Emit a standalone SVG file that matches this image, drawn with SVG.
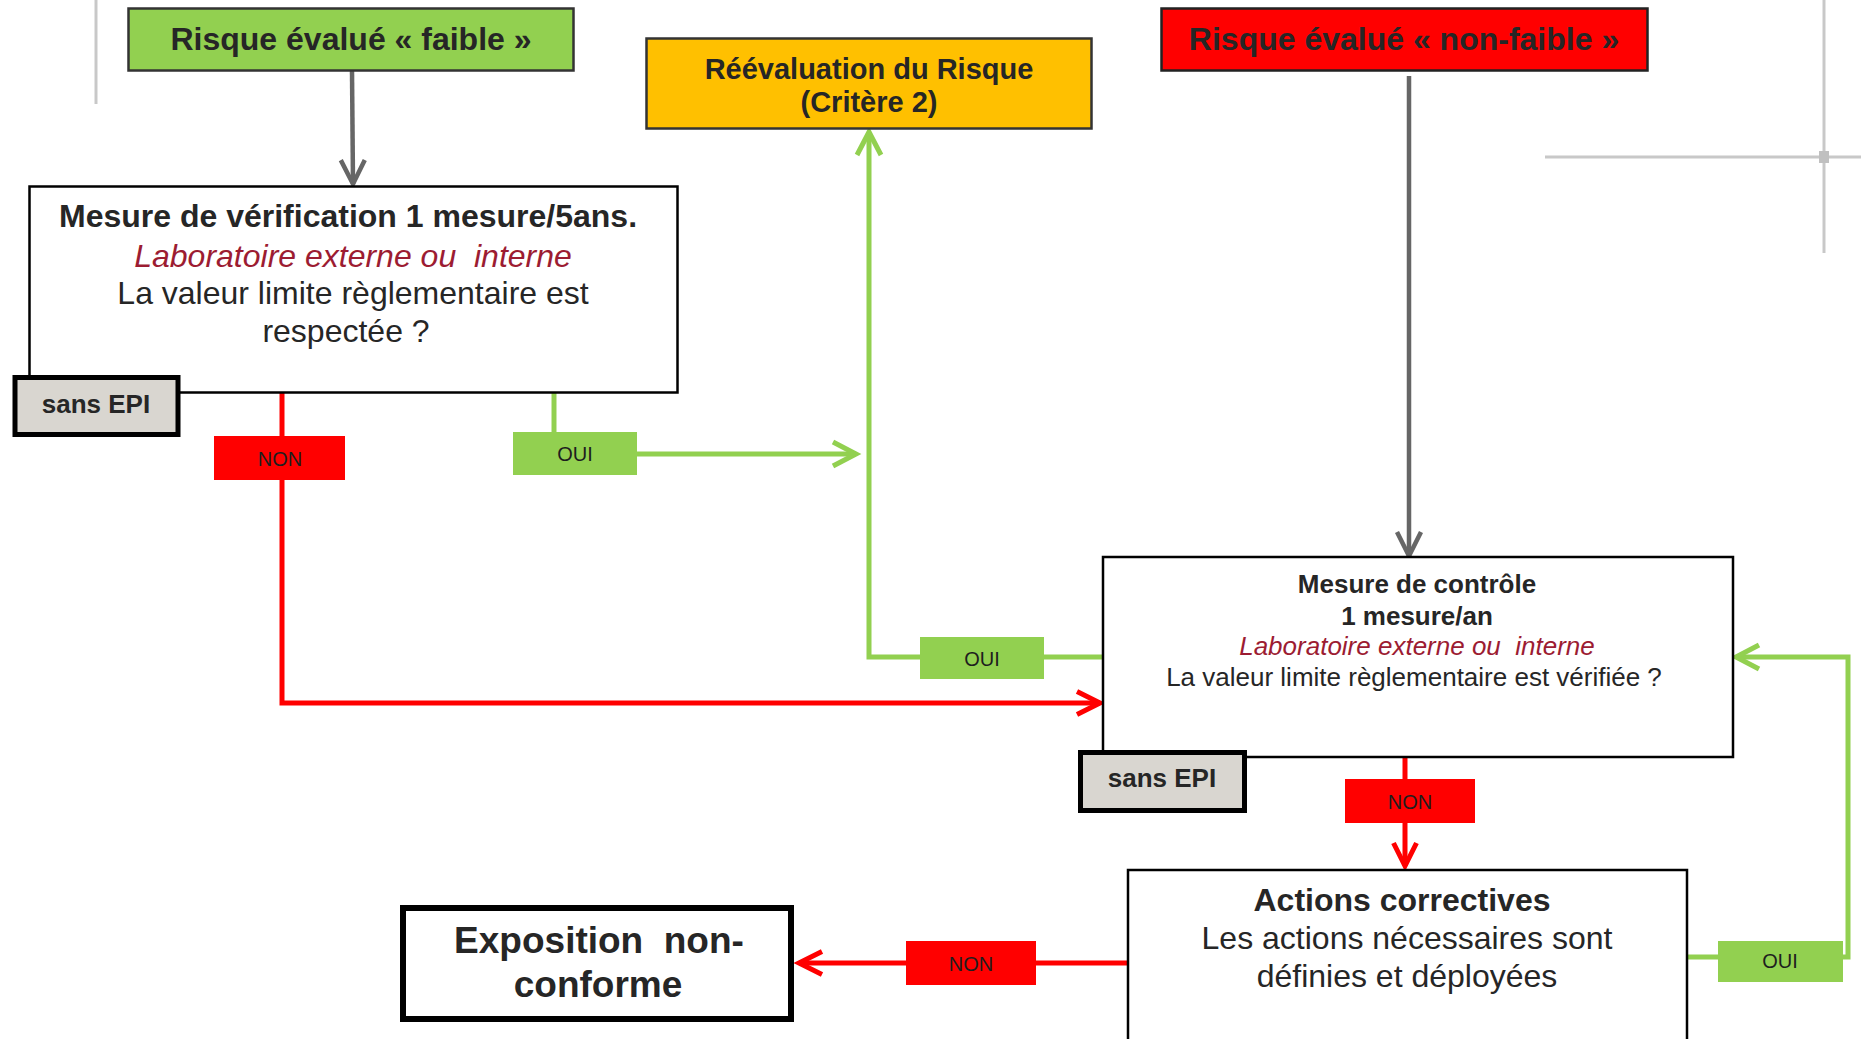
<svg xmlns="http://www.w3.org/2000/svg" width="1861" height="1039" viewBox="0 0 1861 1039">
<style>
text{font-family:"Liberation Sans",Arial,sans-serif;fill:#262626;text-anchor:middle;white-space:pre}
.b{font-weight:bold}
.it{font-style:italic;fill:#9C1C32}
.box{fill:#fff;stroke:#000;stroke-width:2.5}
.epi{fill:#D9D6D0;stroke:#000;stroke-width:5}
.lbl{font-size:20px;fill:#1e1e1e}
.red{fill:none;stroke:#FF0000;stroke-width:5}
.grn{fill:none;stroke:#92D050;stroke-width:5}
.gry{fill:none;stroke:#666;stroke-width:4.5}
.deco{fill:none;stroke:#C8C8C8;stroke-width:3}
</style>
<defs>
<marker id="aGry" markerUnits="userSpaceOnUse" markerWidth="40" markerHeight="40" viewBox="-30 -20 40 40" refX="0" refY="0" orient="auto" overflow="visible">
<path d="M-24,-12 L0,0 L-24,12" fill="none" stroke="#666" stroke-width="4.5"/>
</marker>
<marker id="aRed" markerUnits="userSpaceOnUse" markerWidth="40" markerHeight="40" viewBox="-30 -20 40 40" refX="0" refY="0" orient="auto" overflow="visible">
<path d="M-23,-11.5 L0,0 L-23,11.5" fill="none" stroke="#FF0000" stroke-width="5"/>
</marker>
<marker id="aGrn" markerUnits="userSpaceOnUse" markerWidth="40" markerHeight="40" viewBox="-30 -20 40 40" refX="0" refY="0" orient="auto" overflow="visible">
<path d="M-23,-12 L0,0 L-23,12" fill="none" stroke="#92D050" stroke-width="5"/>
</marker>
</defs>
<rect width="1861" height="1039" fill="#fff"/>
<g id="decor">
<line class="deco" x1="96" y1="0" x2="96" y2="104" stroke-width="2"/>
<line class="deco" x1="1824" y1="0" x2="1824" y2="253"/>
<line class="deco" x1="1545" y1="157" x2="1861" y2="157"/>
<rect x="1819" y="151" width="10" height="12" fill="#C0C0C0"/>
</g>
<g id="connectors">
<path class="gry" d="M352,71 L353,184" marker-end="url(#aGry)"/>
<path class="gry" d="M1409,76 L1409,556" marker-end="url(#aGry)"/>
<path class="red" d="M282,393 V703 H1100" marker-end="url(#aRed)"/>
<path class="grn" d="M554,393 V440"/>
<path class="grn" d="M637,454 H856" marker-end="url(#aGrn)"/>
<path class="grn" d="M1103,657 H869 V132" marker-end="url(#aGrn)"/>
<path class="red" d="M1405,758 V866" marker-end="url(#aRed)"/>
<path class="red" d="M1128,963 H799" marker-end="url(#aRed)"/>
<path class="grn" d="M1687,957 H1848 V657 H1736" marker-end="url(#aGrn)"/>
<g id="lbl-non1"><rect x="214" y="436" width="131" height="44" fill="#FF0000"/><text class="lbl" x="280" y="466">NON</text></g>
<g id="lbl-oui1"><rect x="513" y="432" width="124" height="43" fill="#92D050"/><text class="lbl" x="575" y="461">OUI</text></g>
<g id="lbl-oui2"><rect x="920" y="637" width="124" height="42" fill="#92D050"/><text class="lbl" x="982" y="666">OUI</text></g>
<g id="lbl-non2"><rect x="1345" y="779" width="130" height="44" fill="#FF0000"/><text class="lbl" x="1410" y="809">NON</text></g>
<g id="lbl-non3"><rect x="906" y="941" width="130" height="44" fill="#FF0000"/><text class="lbl" x="971" y="971">NON</text></g>
<g id="lbl-oui3"><rect x="1718" y="941" width="125" height="41" fill="#92D050"/><text class="lbl" x="1780" y="968">OUI</text></g>
</g>
<g id="risque-faible">
<rect x="128.5" y="8.5" width="445" height="62" fill="#92D050" stroke="#333" stroke-width="2.5"/>
<text class="b" x="351" y="50" font-size="32">Risque évalué « faible »</text>
</g>
<g id="reevaluation">
<rect x="646.5" y="38.5" width="445" height="90" fill="#FFC000" stroke="#333" stroke-width="2.5"/>
<text class="b" x="869" y="79" font-size="29">Réévaluation du Risque</text>
<text class="b" x="869" y="112" font-size="29">(Critère 2)</text>
</g>
<g id="risque-non-faible">
<rect x="1161.5" y="8.5" width="486" height="62" fill="#FF0000" stroke="#222" stroke-width="2.5"/>
<text class="b" x="1404" y="50" font-size="32">Risque évalué « non-faible »</text>
</g>
<g id="mesure-verification">
<rect class="box" x="29.5" y="186.5" width="648" height="206"/>
<text class="b" x="348" y="227" font-size="32">Mesure de vérification 1 mesure/5ans.</text>
<text class="it" x="353" y="267" font-size="32">Laboratoire externe ou  interne</text>
<text x="353" y="304" font-size="32">La valeur limite règlementaire est</text>
<text x="346" y="342" font-size="32">respectée ?</text>
</g>
<g id="sans-epi-1">
<rect class="epi" x="15" y="377.5" width="163" height="57"/>
<text class="b" x="96" y="413" font-size="26">sans EPI</text>
</g>
<g id="mesure-controle">
<rect class="box" x="1103" y="557" width="630" height="200"/>
<text class="b" x="1417" y="593" font-size="26">Mesure de contrôle</text>
<text class="b" x="1417" y="625" font-size="26">1 mesure/an</text>
<text class="it" x="1417" y="655" font-size="26">Laboratoire externe ou  interne</text>
<text x="1414" y="686" font-size="26">La valeur limite règlementaire est vérifiée ?</text>
</g>
<g id="sans-epi-2">
<rect class="epi" x="1080.5" y="752.5" width="164" height="58"/>
<text class="b" x="1162" y="787" font-size="26">sans EPI</text>
</g>
<g id="actions-correctives">
<rect class="box" x="1128" y="870" width="559" height="190"/>
<text class="b" x="1402" y="911" font-size="32">Actions correctives</text>
<text x="1407" y="949" font-size="32">Les actions nécessaires sont</text>
<text x="1407" y="987" font-size="32">définies et déployées</text>
</g>
<g id="exposition">
<rect x="403" y="908" width="388" height="111" fill="#fff" stroke="#000" stroke-width="6"/>
<text class="b" x="599" y="953" font-size="37">Exposition  non-</text>
<text class="b" x="598" y="997" font-size="37">conforme</text>
</g>
</svg>
